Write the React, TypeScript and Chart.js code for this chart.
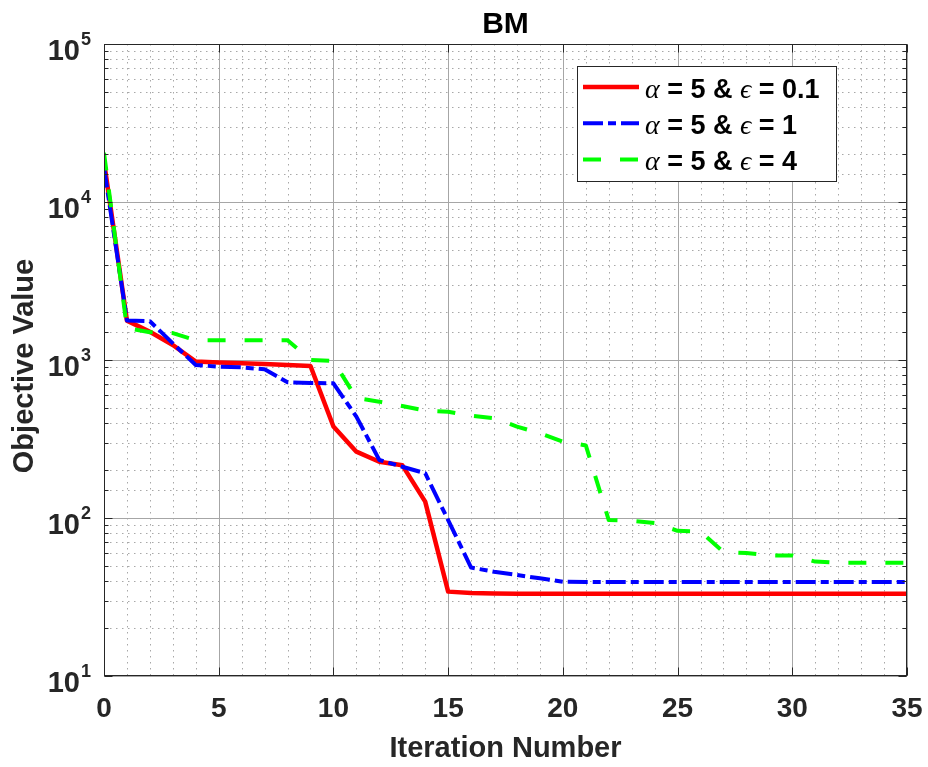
import React, { useEffect, useRef } from 'react';
import { Chart, registerables } from 'chart.js';

Chart.register(...registerables);

// ---------- data ----------
const ITERATIONS = [0, 1, 2, 3, 4, 5, 6, 7, 8, 9, 10, 11, 12, 13, 14, 15, 16, 17, 18, 19, 20, 21, 22, 23, 24, 25, 26, 27, 28, 29, 30, 31, 32, 33, 34, 35];

const EPS_01 = [18000, 1775, 1510, 1245, 977, 965, 955, 942, 930, 917, 379, 263, 227, 216, 127, 34.2, 33.5, 33.3, 33.2, 33.2, 33.2, 33.2, 33.2, 33.2, 33.2, 33.2, 33.2, 33.2, 33.2, 33.2, 33.2, 33.2, 33.2, 33.2, 33.2, 33.2];

const EPS_1 = [16500, 1780, 1760, 1275, 929, 908, 898, 873, 723, 715, 712, 438, 233, 211, 192, 97, 48.6, 45.7, 43.6, 41.5, 39.5, 39.4, 39.4, 39.4, 39.4, 39.4, 39.4, 39.4, 39.4, 39.4, 39.4, 39.4, 39.4, 39.4, 39.4, 39.4];

const EPS_4 = [20500, 1590, 1500, 1480, 1335, 1335, 1335, 1335, 1335, 1000, 985, 574, 545, 512, 478, 471, 444, 428, 379, 344, 304, 288, 97, 96, 93, 83, 82, 61, 60, 58, 58, 53, 52, 52, 52, 52];

const X_MAJOR_TICKS = [0, 5, 10, 15, 20, 25, 30, 35];
const Y_MIN = 10;
const Y_MAX = 100000;
const X_MIN = 0;
const X_MAX = 35;

const TITLE = 'BM';
const X_TITLE = 'Iteration Number';
const Y_TITLE = 'Objective Value';

const LEGEND_PARTS = [
  ['α', ' = 5 & ', 'ϵ', ' = 0.1'],
  ['α', ' = 5 & ', 'ϵ', ' = 1'],
  ['α', ' = 5 & ', 'ϵ', ' = 4'],
];

const COLORS = ['#ff0000', '#0000ff', '#00ff00'];
const DASHES: number[][] = [[], [20, 5, 8, 5], [18, 19]];
const WIDTHS = [4.5, 4, 4];

const SANS = "'Liberation Sans', Arial, Helvetica, sans-serif";
const SERIF = "'Liberation Serif', 'DejaVu Serif', serif";
const AXIS_COLOR = '#262626';

const W = 928;
const H = 767;

const matlabPlugin = {
  id: 'matlabLook',
  beforeDatasetsDraw(chart: any) {
    const { ctx, chartArea: a, scales } = chart;
    const x = scales.x;
    const y = scales.y;
    ctx.save();
    ctx.fillStyle = '#ffffff';
    ctx.fillRect(a.left, a.top, a.right - a.left, a.bottom - a.top);

    // minor grid (dotted)
    ctx.strokeStyle = '#a8a8a8';
    ctx.lineWidth = 1;
    ctx.setLineDash([1.5, 4.5]);
    x.ticks.forEach((t: any) => {
      if (t.value % 5 === 0) return;
      const px = Math.round(x.getPixelForValue(t.value)) + 0.5;
      ctx.beginPath();
      ctx.moveTo(px, a.top);
      ctx.lineTo(px, a.bottom);
      ctx.stroke();
    });
    y.ticks.forEach((t: any) => {
      const l = Math.log10(t.value);
      if (Math.abs(l - Math.round(l)) < 1e-9) return;
      const py = Math.round(y.getPixelForValue(t.value)) + 0.5;
      ctx.beginPath();
      ctx.moveTo(a.left, py);
      ctx.lineTo(a.right, py);
      ctx.stroke();
    });

    // major grid (solid)
    ctx.setLineDash([]);
    ctx.strokeStyle = '#a6a6a6';
    x.ticks.forEach((t: any) => {
      if (t.value % 5 !== 0) return;
      const px = Math.round(x.getPixelForValue(t.value)) + 0.5;
      ctx.beginPath();
      ctx.moveTo(px, a.top);
      ctx.lineTo(px, a.bottom);
      ctx.stroke();
    });
    y.ticks.forEach((t: any) => {
      const l = Math.log10(t.value);
      if (Math.abs(l - Math.round(l)) > 1e-9) return;
      const py = Math.round(y.getPixelForValue(t.value)) + 0.5;
      ctx.beginPath();
      ctx.moveTo(a.left, py);
      ctx.lineTo(a.right, py);
      ctx.stroke();
    });
    ctx.restore();
  },
  afterDatasetsDraw(chart: any) {
    const { ctx, chartArea: a, scales } = chart;
    const x = scales.x;
    const y = scales.y;
    ctx.save();
    // axes box
    ctx.strokeStyle = AXIS_COLOR;
    ctx.lineWidth = 1;
    ctx.setLineDash([]);
    const L = Math.round(a.left) + 0.5;
    const R = Math.round(a.right) - 0.5;
    const T = Math.round(a.top) + 0.5;
    const B = Math.round(a.bottom) - 0.5;
    ctx.strokeRect(L, T, R - L, B - T);

    // ticks
    x.ticks.forEach((t: any) => {
      if (t.value % 5 !== 0) return;
      const px = Math.round(x.getPixelForValue(t.value)) + 0.5;
      ctx.beginPath();
      ctx.moveTo(px, B);
      ctx.lineTo(px, B - 8);
      ctx.moveTo(px, T);
      ctx.lineTo(px, T + 8);
      ctx.stroke();
    });
    y.ticks.forEach((t: any) => {
      const l = Math.log10(t.value);
      const major = Math.abs(l - Math.round(l)) < 1e-9;
      const len = major ? 8 : 4;
      const py = Math.round(y.getPixelForValue(t.value)) + 0.5;
      ctx.beginPath();
      ctx.moveTo(L, py);
      ctx.lineTo(L + len, py);
      ctx.moveTo(R, py);
      ctx.lineTo(R - len, py);
      ctx.stroke();
    });

    // legend
    const bx = 577.5;
    const by = 66.5;
    const bw = 259;
    const bh = 115;
    ctx.fillStyle = '#ffffff';
    ctx.fillRect(bx, by, bw, bh);
    ctx.strokeStyle = AXIS_COLOR;
    ctx.lineWidth = 1;
    ctx.strokeRect(bx, by, bw, bh);
    chart.data.datasets.forEach((ds: any, i: number) => {
      const base = by + 31 + i * 36.3;
      const ly = base - 10.5;
      ctx.save();
      ctx.strokeStyle = ds.borderColor;
      ctx.lineWidth = ds.borderWidth;
      ctx.setLineDash(ds.borderDash || []);
      ctx.beginPath();
      ctx.moveTo(583, ly);
      ctx.lineTo(639, ly);
      ctx.stroke();
      ctx.restore();
      let tx = 645;
      ctx.fillStyle = '#000000';
      ctx.textAlign = 'left';
      ctx.textBaseline = 'alphabetic';
      LEGEND_PARTS[i].forEach((p, j) => {
        ctx.font = j % 2 === 0 ? `italic 28px ${SERIF}` : `bold 27px ${SANS}`;
        ctx.fillText(p, tx, base);
        tx += ctx.measureText(p).width;
      });
    });
    ctx.restore();
  },
  afterDraw(chart: any) {
    const { ctx, chartArea: a, scales } = chart;
    const x = scales.x;
    const y = scales.y;
    const cx = (a.left + a.right) / 2;
    ctx.save();
    // title
    ctx.fillStyle = '#000000';
    ctx.font = `bold 30px ${SANS}`;
    ctx.textAlign = 'center';
    ctx.textBaseline = 'alphabetic';
    ctx.fillText(TITLE, cx, a.top - 11);

    // x tick labels
    ctx.fillStyle = AXIS_COLOR;
    ctx.font = `bold 28px ${SANS}`;
    X_MAJOR_TICKS.forEach((v) => {
      ctx.fillText(String(v), x.getPixelForValue(v), a.bottom + 41);
    });

    // y tick labels (10^n)
    y.ticks.forEach((t: any) => {
      const l = Math.log10(t.value);
      if (Math.abs(l - Math.round(l)) > 1e-9) return;
      const py = y.getPixelForValue(t.value);
      ctx.font = `bold 29px ${SANS}`;
      ctx.textAlign = 'right';
      ctx.fillText('10', a.left - 24, py + 16);
      ctx.font = `bold 18px ${SANS}`;
      ctx.textAlign = 'left';
      ctx.fillText(String(Math.round(l)), a.left - 23, py + 0.5);
    });

    // axis titles
    ctx.textAlign = 'center';
    ctx.font = `bold 29px ${SANS}`;
    ctx.fillText(X_TITLE, cx, a.bottom + 81);
    ctx.save();
    ctx.translate(33, (a.top + a.bottom) / 2 + 6);
    ctx.rotate(-Math.PI / 2);
    ctx.fillText(Y_TITLE, 0, 0);
    ctx.restore();
    ctx.restore();
  },
};

export default function App() {
  const ref = useRef<HTMLCanvasElement | null>(null);
  useEffect(() => {
    if (!ref.current) return;
    const series = [EPS_01, EPS_1, EPS_4];
    const chart = new Chart(ref.current, {
      type: 'line',
      data: {
        datasets: series.map((vals, i) => ({
          label: LEGEND_PARTS[i].join(''),
          data: ITERATIONS.map((it, k) => ({ x: it, y: vals[k] })),
          borderColor: COLORS[i],
          backgroundColor: COLORS[i],
          borderWidth: WIDTHS[i],
          borderDash: DASHES[i],
          pointRadius: 0,
          tension: 0,
          fill: false,
          borderJoinStyle: 'round' as const,
          order: 2 - i,
        })),
      },
      options: {
        animation: false,
        responsive: false,
        devicePixelRatio: 1,
        layout: { padding: { top: 44, right: 21, left: 0, bottom: 0 } },
        plugins: {
          legend: { display: false },
          title: { display: false },
          tooltip: { enabled: false },
        },
        scales: {
          x: {
            type: 'linear',
            min: X_MIN,
            max: X_MAX,
            ticks: { display: false, stepSize: 1 },
            grid: { display: false },
            border: { display: false },
            afterFit: (s: any) => {
              s.height = 91;
            },
          },
          y: {
            type: 'logarithmic',
            min: Y_MIN,
            max: Y_MAX,
            ticks: { display: false },
            grid: { display: false },
            border: { display: false },
            afterFit: (s: any) => {
              s.width = 104;
            },
          },
        },
      },
      plugins: [matlabPlugin],
    } as any);
    return () => chart.destroy();
  }, []);
  return (
    <div style={{ position: 'absolute', left: 0, top: 0, width: W, height: H, background: '#fff' }}>
      <canvas ref={ref} width={W} height={H} />
    </div>
  );
}
